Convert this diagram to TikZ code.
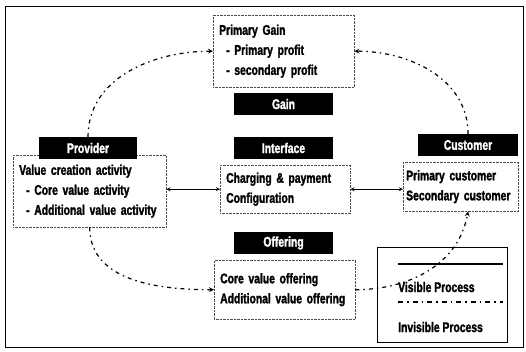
\documentclass[tikz,border=0pt]{standalone}
\usepackage{fontspec}
\setmainfont{Liberation Sans}[FakeStretch=0.74,BoldFeatures={FakeBold=1.6}]
\usepackage{tikz}
\hyphenpenalty=10000
\exhyphenpenalty=10000

\begin{document}
\begin{tikzpicture}[x=1pt,y=-1pt,>=stealth,
        font=\fontsize{14}{20}\selectfont\bfseries,
        infobox/.style={draw=black!70,densely dotted,thin,align=left,inner xsep=6pt,inner ysep=0pt,anchor=north west},
        tagbox/.style={fill=black,text=white,minimum height=22pt,inner sep=0pt},
        flow/.style={->,line width=1.2pt,dash pattern=on 4pt off 4pt on 1.5pt off 4pt},
        link/.style={<->,thick}]

        \useasboundingbox (0,0) rectangle (526,351);

        %frame
        \draw [thin] (5,6) rectangle (523,347);

        %info boxes
        \node[infobox,minimum width=141pt,minimum height=72pt,text width=129pt] (gainbox) at (213,15) {Primary Gain\\\hspace{7pt}- Primary profit\\\hspace{7pt}- secondary profit};
        \node[infobox,minimum width=153pt,minimum height=72pt,text width=141pt] (provbox) at (13,155) {Value~creation~activity\\\hspace{7pt}- Core value activity\\\hspace{7pt}- Additional~value~activity};
        \node[infobox,minimum width=130pt,minimum height=48pt,text width=118pt] (intbox) at (220,165) {Charging~\&~payment\\Configuration};
        \node[infobox,minimum width=115pt,minimum height=49pt,text width=109pt,inner xsep=3pt] (custbox) at (403,162) {\mbox{Primary customer}\\\mbox{Secondary customer}};
        \node[infobox,minimum width=141pt,minimum height=59pt,text width=129pt] (offbox) at (214,260) {Core value offering\\Additional~value~offering};

        %black labels
        \node[tagbox,minimum width=99pt] (gaintag) at (283.5,104) {Gain};
        \node[tagbox,minimum width=99pt] (inttag) at (283.5,148) {Interface};
        \node[tagbox,minimum width=98pt] (provtag) at (88,148) {Provider};
        \node[tagbox,minimum width=100pt] (custtag) at (468,145) {Customer};
        \node[tagbox,minimum width=99pt] (offtag) at (283.5,243) {Offering};

        %legend
        \node[draw,thin,minimum width=130pt,minimum height=95pt,inner sep=0pt,anchor=north west] (legend) at (377,247) {};
        \coordinate (vis1) at (398,264);
        \coordinate (vis2) at (503,264);
        \coordinate (inv1) at (398,302);
        \coordinate (inv2) at (503,302);
        \draw [line width=1.2pt] (vis1) -- (vis2);
        \draw [line width=1.2pt,dash pattern=on 5pt off 4pt on 1.5pt off 4pt] (inv1) -- (inv2);
        \node[anchor=west,inner sep=0pt] (vistext) at (398,287) {Visible Process};
        \node[anchor=west,inner sep=0pt] (invtext) at (398,327) {Invisible Process};

        %curved process arrows
        \draw [flow] (provtag.north) to[out=90,in=180] (gainbox.west);
        \draw [flow] (custtag.north) to[out=90,in=0] (gainbox.east);
        \draw [flow] (provbox.south) to[out=-90,in=180] (offbox.west);
        \draw [flow] (offbox.east) to[out=0,in=-100] (custbox.south -| custtag.north);

        %straight links
        \draw [link] (provbox.east |- intbox.west) -- (intbox.west);
        \draw [link] (intbox.east) -- (custbox.west |- intbox.east);
\end{tikzpicture}
\end{document}
